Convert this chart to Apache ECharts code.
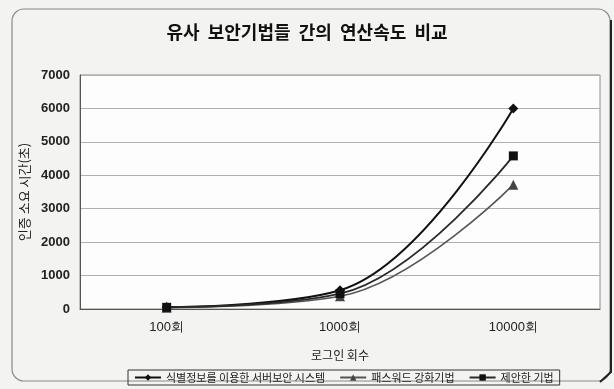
<!DOCTYPE html>
<html>
<head>
<meta charset="utf-8">
<script src="https://cdn.jsdelivr.net/npm/echarts@6/dist/echarts.min.js"></script>
<style>
  html, body { margin: 0; padding: 0; background: #f3f3f1; }
  #chart { width: 614px; height: 389px; }
</style>
</head>
<body>
<div id="chart"></div>
<script>
// Login counts on the x axis
const categories = ['100회', '1000회', '10000회'];
// Authentication time (seconds) for each technique
const serverSecurity = [60, 560, 6000];   // 식별정보를 이용한 서버보안 시스템
const passwordHardening = [40, 380, 3720]; // 패스워드 강화기법
const proposed = [50, 460, 4580];          // 제안한 기법
const seriesNames = ['식별정보를 이용한 서버보안 시스템', '패스워드 강화기법', '제안한 기법'];

const fontKR = '"Noto Sans CJK KR", "Noto Sans", sans-serif';
const chart = echarts.init(document.getElementById('chart'));

chart.setOption({
  backgroundColor: '#f3f3f1',
  animation: false,
  graphic: [{
    type: 'rect',
    shape: { x: 12, y: 9, width: 598, height: 372, r: 12 },
    style: { fill: 'transparent', stroke: '#8a8a8a', lineWidth: 1.2 },
    z: -1
  }, {
    type: 'polyline',
    shape: { points: [[611, 20], [611, 372], [600, 382]] },
    style: { fill: 'none', stroke: '#222', lineWidth: 2 },
    z: -1
  }],
  title: {
    text: '유사  보안기법들  간의  연산속도  비교',
    left: 'center',
    top: 18,
    textStyle: { fontFamily: fontKR, fontWeight: 'bold', fontSize: 18, color: '#111' }
  },
  grid: {
    left: 80, top: 75, width: 520, height: 234,
    show: true, backgroundColor: '#fdfdfd', borderColor: '#8c8c8c', borderWidth: 1
  },
  legend: {
    data: seriesNames,
    bottom: 4,
    left: 128,
    itemWidth: 26,
    itemHeight: 8,
    itemGap: 14,
    padding: [2, 6],
    borderColor: '#333',
    borderWidth: 1,
    textStyle: { fontFamily: fontKR, fontSize: 11, color: '#222' }
  },
  xAxis: {
    type: 'category',
    data: categories,
    boundaryGap: true,
    name: '로그인 회수',
    nameLocation: 'middle',
    nameGap: 40,
    nameTextStyle: { fontFamily: fontKR, fontSize: 12, color: '#222' },
    axisLine: { lineStyle: { color: '#555' } },
    axisTick: { show: false },
    axisLabel: { fontFamily: 'Liberation Sans, Arial, sans-serif', fontSize: 13, color: '#222', margin: 12 }
  },
  yAxis: {
    type: 'value',
    min: 0, max: 7000, interval: 1000,
    name: '인증 소요 시간(초)',
    nameLocation: 'middle',
    nameGap: 48,
    nameRotate: 90,
    nameTextStyle: { fontFamily: fontKR, fontSize: 13, color: '#222' },
    axisLine: { show: true, lineStyle: { color: '#555' } },
    axisTick: { show: false },
    splitLine: { lineStyle: { color: '#b0b0b0', width: 1 } },
    axisLabel: {
      formatter: v => String(v),
      fontFamily: 'Liberation Sans, Arial, sans-serif', fontSize: 13, fontWeight: 'bold', color: '#222', margin: 10
    }
  },
  series: [{
    name: seriesNames[0],
    type: 'line',
    data: serverSecurity,
    smooth: 0.4,
    symbol: 'diamond',
    symbolSize: 10,
    lineStyle: { color: '#111', width: 2 },
    itemStyle: { color: '#111' }
  }, {
    name: seriesNames[1],
    type: 'line',
    data: passwordHardening,
    smooth: 0.4,
    symbol: 'triangle',
    symbolSize: 10,
    lineStyle: { color: '#555', width: 1.6 },
    itemStyle: { color: '#444' }
  }, {
    name: seriesNames[2],
    type: 'line',
    data: proposed,
    smooth: 0.4,
    symbol: 'rect',
    symbolSize: 9,
    lineStyle: { color: '#2a2a2a', width: 1.8 },
    itemStyle: { color: '#111' }
  }]
});
</script>
</body>
</html>
